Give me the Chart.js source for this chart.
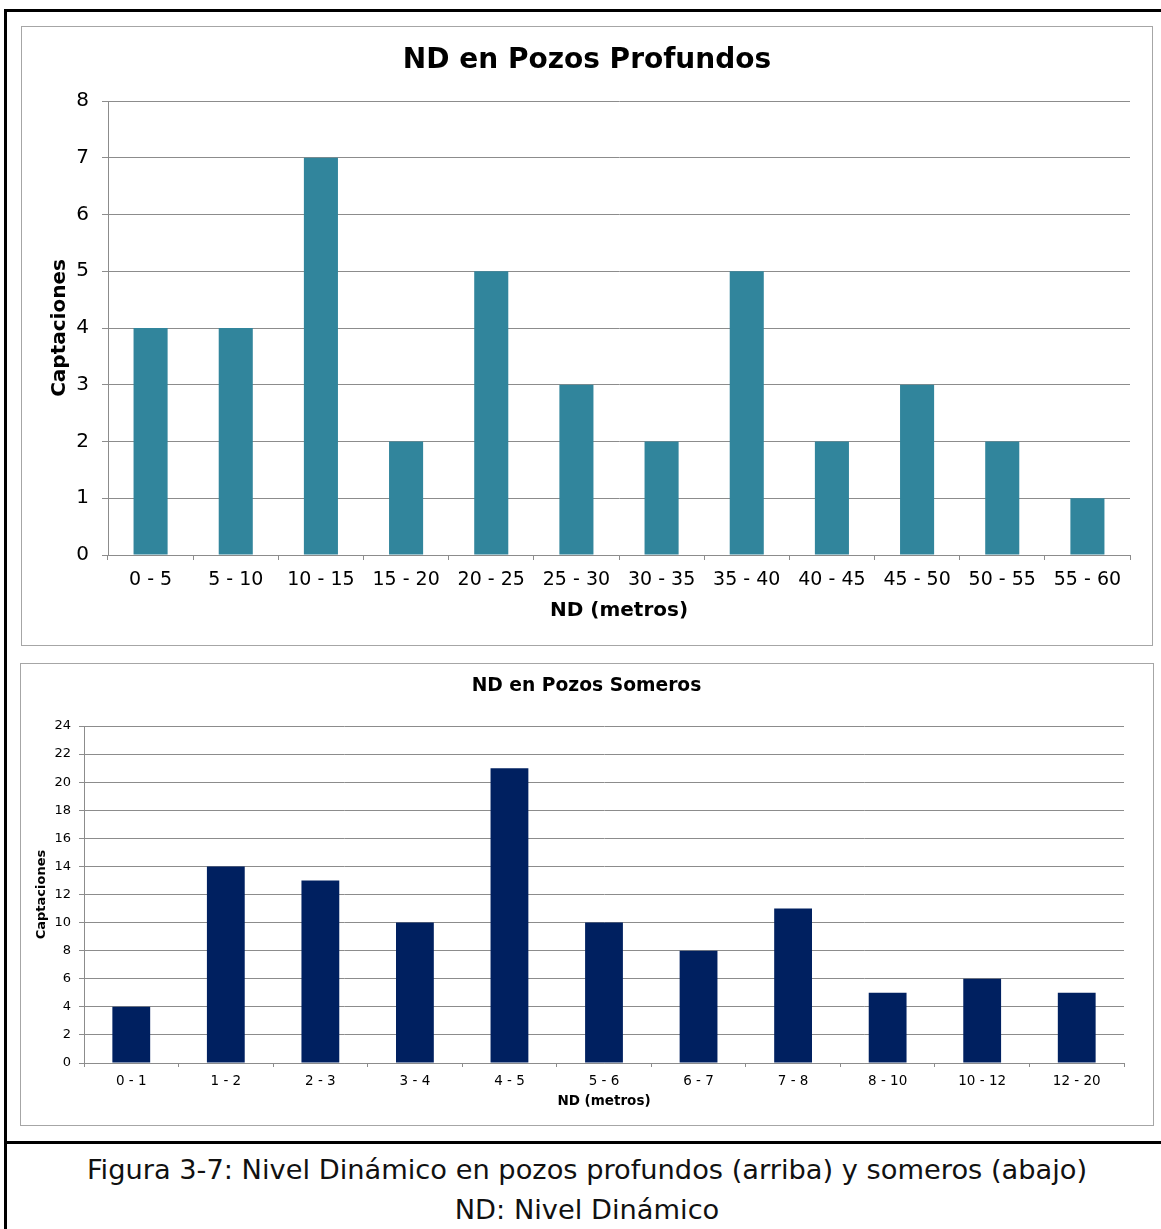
<!DOCTYPE html>
<html>
<head>
<meta charset="utf-8">
<title>Nivel Dinámico</title>
<script src="https://cdn.jsdelivr.net/npm/chart.js@4/dist/chart.umd.min.js"></script>
<style>
  html, body { margin: 0; padding: 0; background: #fff; }
  body { width: 1161px; height: 1229px; position: relative; overflow: hidden; font-family: "DejaVu Sans", Verdana, sans-serif; }
  .outer { position: absolute; left: 4px; top: 9px; width: 1200px; height: 1300px; border: 3px solid #000; box-sizing: border-box; }
  .sep { position: absolute; left: 4px; top: 1141px; width: 1200px; height: 3px; background: #000; }
  .frame { position: absolute; border: 1px solid #a6a6a6; box-sizing: border-box; pointer-events: none; }
  canvas { position: absolute; }
  .caption { position: absolute; left: 0; width: 1174px; text-align: center; font-size: 27.25px; color: #111; line-height: 40px; }
</style>
</head>
<body>
<div class="outer"></div>
<div class="sep"></div>

<canvas id="profundos" width="1132" height="619" style="left:21px;top:26px"></canvas>
<div class="frame" style="left:21px;top:26px;width:1132px;height:620px"></div>

<canvas id="someros" width="1133" height="462" style="left:20px;top:663px"></canvas>
<div class="frame" style="left:20px;top:663px;width:1134px;height:463px"></div>

<div class="caption" style="top:1150px">Figura 3-7: Nivel Dinámico en pozos profundos (arriba) y someros (abajo)</div>
<div class="caption" style="top:1190px">ND: Nivel Dinámico</div>

<script>
// Deep wells: number of wells per dynamic-level range (metres)
const profundosLabels = ['0 - 5', '5 - 10', '10 - 15', '15 - 20', '20 - 25', '25 - 30',
                         '30 - 35', '35 - 40', '40 - 45', '45 - 50', '50 - 55', '55 - 60'];
const profundosValues = [4, 4, 7, 2, 5, 3, 2, 5, 2, 3, 2, 1];

// Shallow wells
const somerosLabels = ['0 - 1', '1 - 2', '2 - 3', '3 - 4', '4 - 5', '5 - 6',
                       '6 - 7', '7 - 8', '8 - 10', '10 - 12', '12 - 20'];
const somerosValues = [4, 14, 13, 10, 21, 10, 8, 11, 5, 6, 5];

const FONT = '"DejaVu Sans", Verdana, sans-serif';
const GRID = '#8c8c8c';
Chart.defaults.font.family = FONT;
Chart.defaults.color = '#000';

function barChart(id, cfg) {
  return new Chart(document.getElementById(id), {
    type: 'bar',
    data: {
      labels: cfg.labels,
      datasets: [{
        data: cfg.values,
        backgroundColor: cfg.color,
        borderWidth: 0,
        categoryPercentage: 1,
        barPercentage: 0.4
      }]
    },
    options: {
      responsive: false,
      animation: false,
      devicePixelRatio: 1,
      // equal side padding keeps the chart title centred on the canvas
      layout: { padding: { left: cfg.padSide, right: cfg.padSide, top: 0, bottom: 0 } },
      plugins: {
        legend: { display: false },
        tooltip: { enabled: false },
        title: {
          display: true,
          text: cfg.title,
          font: { size: cfg.titleSize, weight: 'bold' },
          color: '#000',
          padding: cfg.titlePad
        }
      },
      scales: {
        x: {
          offset: true,
          grid: { offset: true, drawOnChartArea: false, drawTicks: true, tickLength: cfg.xTick, color: GRID },
          border: { display: true, color: GRID, width: 1 },
          ticks: { font: { size: cfg.xFont }, padding: cfg.xPad, maxRotation: 0, autoSkip: false, color: '#000' },
          title: { display: true, text: 'ND (metros)', font: { size: cfg.xTitleSize, weight: 'bold' }, color: '#000', padding: { top: 0, bottom: cfg.xTitlePad } },
          afterFit: s => { s.height = cfg.xHeight; }
        },
        y: {
          min: 0,
          max: cfg.yMax,
          ticks: { stepSize: cfg.yStep, font: { size: cfg.yFont }, padding: cfg.yPad, color: '#000' },
          grid: { color: GRID, lineWidth: 1, drawTicks: true, tickLength: cfg.yTick },
          border: { display: true, color: GRID, width: 1 },
          title: { display: true, text: 'Captaciones', font: { size: cfg.yTitleSize, weight: 'bold' }, color: '#000', padding: { top: cfg.yTitlePad, bottom: 0 } },
          afterFit: s => { s.width = cfg.yWidth; }
        }
      }
    }
  });
}

barChart('profundos', {
  labels: profundosLabels, values: profundosValues, color: '#31859c',
  title: 'ND en Pozos Profundos', titleSize: 28, titlePad: { top: 18, bottom: 23.4 },
  padSide: 23,
  xTick: 5, xFont: 19, xPad: 9, xTitleSize: 20, xTitlePad: 22, xHeight: 90,
  yMax: 8, yStep: 1, yFont: 20, yPad: 13, yTick: 6, yTitleSize: 20, yTitlePad: 4, yWidth: 64
});

barChart('someros', {
  labels: somerosLabels, values: somerosValues, color: '#002060',
  title: 'ND en Pozos Someros', titleSize: 18.7, titlePad: { top: 11.8, bottom: 28.8 },
  padSide: 29,
  xTick: 4, xFont: 13.5, xPad: 6.5, xTitleSize: 13.5, xTitlePad: 15, xHeight: 62,
  yMax: 24, yStep: 2, yFont: 13, yPad: 8, yTick: 5, yTitleSize: 13, yTitlePad: -14.8, yWidth: 35
});
</script>
</body>
</html>
